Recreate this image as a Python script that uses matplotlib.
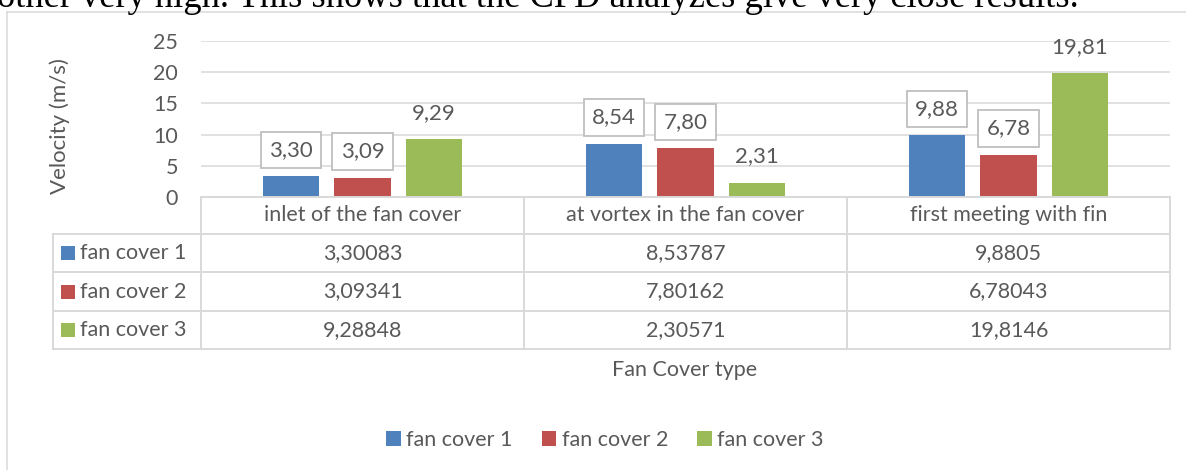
import numpy as np
import matplotlib.pyplot as plt
import matplotlib.transforms as mtransforms
from matplotlib.lines import Line2D
from matplotlib.patches import Rectangle

categories = ["inlet of the fan cover", "at vortex in the fan cover", "first meeting with fin"]
series_names = ["fan cover 1", "fan cover 2", "fan cover 3"]
fan_cover_1 = [3.30083, 8.53787, 9.8805]
fan_cover_2 = [3.09341, 7.80162, 6.78043]
fan_cover_3 = [9.28848, 2.30571, 19.8146]
yticks = [0, 5, 10, 15, 20, 25]
series = [fan_cover_1, fan_cover_2, fan_cover_3]

W, H = 1186, 470
colors = ["#4f81bd", "#c0504d", "#9bbb59"]
boxed = [True, True, False]
TXT = "#595959"
GRID = "#d9d9d9"
FS = 15.5

plt.rcParams["font.family"] = ["Lato", "DejaVu Sans"]

fig = plt.figure(figsize=(W / 100, H / 100), dpi=100)

def fx(x):
    return x / W

def fy(y):
    return 1 - y / H

# text of the document above the chart (cut off at the top)
fig.text(fx(-3), fy(7), "other very high. This shows that the CFD analyzes give very close results.",
         family=["Liberation Serif"], fontsize=26.3, color="black", ha="left", va="baseline")

# chart frame
fig.add_artist(Line2D([fx(7), fx(7)], [fy(12), 0], transform=fig.transFigure, color=GRID, lw=1.1))
fig.add_artist(Line2D([fx(7), 1], [fy(12), fy(12)], transform=fig.transFigure, color=GRID, lw=1.1))

ax = fig.add_axes([fx(201), fy(197), (1170 - 201) / W, (197 - 41) / H])
x = np.arange(len(categories))
width = 0.175
step = 0.221
for i, vals in enumerate(series):
    xs = x + (i - 1) * step
    ax.bar(xs, vals, width, color=colors[i], label=series_names[i], zorder=2)
    for xi, v in zip(xs, vals):
        bb = None
        if boxed[i]:
            bb = dict(boxstyle="square,pad=0.37", fc="white", ec="#bfbfbf", lw=1.3)
        ax.annotate(f"{v:.2f}".replace(".", ","), (xi, v), xytext=(0, 19), textcoords="offset points",
                    ha="center", va="center", fontsize=FS + 0.5, color=TXT, bbox=bb, zorder=3)

ax.set_xlim(-0.5, len(categories) - 0.5)
ax.set_ylim(0, 25)
ax.set_yticks(yticks)
ax.set_xticks([])
ax.tick_params(axis="y", length=0, pad=16.5, labelsize=FS, labelcolor=TXT)
for s in ax.spines.values():
    s.set_visible(False)
ax.yaxis.grid(True, color=GRID, lw=1.1)
ax.set_axisbelow(True)

# data table under the plot
tr = mtransforms.blended_transform_factory(ax.transData, fig.transFigure)
row_y = [197, 234, 272, 311, 349]
tlw = 1.4
fig.add_artist(Line2D([-0.5, len(categories) - 0.5], [fy(197), fy(197)], transform=tr, color=GRID, lw=tlw))
for b in np.arange(len(categories) + 1) - 0.5:
    fig.add_artist(Line2D([b, b], [fy(197), fy(349)], transform=tr, color=GRID, lw=tlw))
right = ax.transData.transform((len(categories) - 0.5, 0))[0] / W
for yy in row_y[1:]:
    fig.add_artist(Line2D([fx(53), right], [fy(yy), fy(yy)], transform=fig.transFigure, color=GRID, lw=tlw))
fig.add_artist(Line2D([fx(53), fx(53)], [fy(234), fy(349)], transform=fig.transFigure, color=GRID, lw=tlw))

for j, c in enumerate(categories):
    fig.text(j, fy(215), c, transform=tr, ha="center", va="center", fontsize=FS, color=TXT)

for i, vals in enumerate(series):
    yc = (row_y[i + 1] + row_y[i + 2]) / 2
    fig.add_artist(Rectangle((fx(61), fy(yc + 7)), 14 / W, 14 / H, transform=fig.transFigure,
                             color=colors[i], lw=0))
    fig.text(fx(80), fy(yc), series_names[i], ha="left", va="center", fontsize=FS, color=TXT)
    for j, v in enumerate(vals):
        fig.text(j, fy(yc), str(v).replace(".", ","), transform=tr, ha="center", va="center",
                 fontsize=FS, color=TXT)

fig.text(fx(60), fy(126), "Velocity (m/s)", rotation=90, ha="center", va="center", fontsize=FS + 0.5, color=TXT)
fig.text(fx(685), fy(370), "Fan Cover type", ha="center", va="center", fontsize=FS, color=TXT)

fig.legend(loc="center", bbox_to_anchor=(fx(605), fy(440)), ncol=3, frameon=False, fontsize=FS,
           labelcolor=TXT, handlelength=0.68, handleheight=0.68, handletextpad=0.25, columnspacing=1.35)

fig.savefig("out.png", dpi=100, facecolor="white")
